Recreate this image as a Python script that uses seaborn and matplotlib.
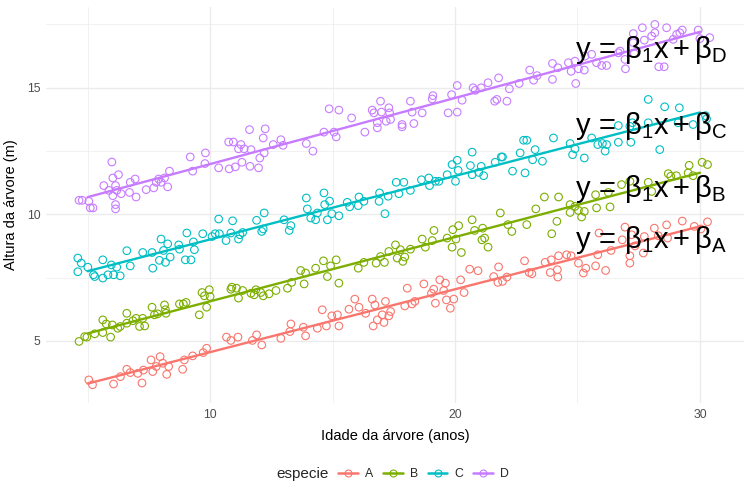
import numpy as np
import pandas as pd
import seaborn as sns
import matplotlib.pyplot as plt
from matplotlib.lines import Line2D

# dados (idade jitterizada, altura em m)
idade_A = [5.05, 5.2, 6.06, 6.34, 6.6, 6.74, 7.05, 7.22, 7.28, 7.59, 7.66, 7.8, 7.96, 8.07, 8.23, 8.31,
           8.88, 8.95, 9.29, 9.72, 9.86, 10.67, 10.85, 11.14, 11.73, 11.9, 12.11, 12.89, 13.26, 13.3,
           13.81, 13.9, 14.38, 14.58, 14.75, 14.97, 15.2, 15.26, 15.67, 15.91, 16.08, 16.35, 16.62,
           16.66, 16.73, 16.83, 17.03, 17.1, 17.16, 17.3, 17.37, 17.95, 18.05, 18.25, 18.36, 18.73,
           19.04, 19.13, 19.2, 19.38, 19.54, 19.61, 19.65, 19.81, 19.95, 20.23, 20.37, 20.6, 20.94,
           21.58, 21.78, 21.75, 21.94, 22.12, 22.84, 23.03, 23.14, 23.68, 23.93, 23.89, 24.18, 24.2,
           24.23, 24.56, 24.74, 25.04, 25.24, 25.34, 25.74, 25.83, 25.88, 26.15, 26.37, 26.83, 26.94,
           27.14, 27.14, 27.21, 27.35, 27.69, 27.73, 28.14, 28.3, 28.64, 28.68, 29.28, 29.77, 30.04, 30.31]
altura_A = [3.46, 3.27, 3.3, 3.59, 3.88, 3.75, 3.72, 3.34, 3.85, 4.25, 3.79, 3.99, 4.38, 4.12, 3.68, 3.99,
            3.88, 4.25, 4.41, 4.54, 4.71, 5.15, 5.02, 5.15, 5.02, 5.24, 4.84, 5.1, 5.37, 5.67,
            5.54, 5.2, 5.5, 6.23, 5.59, 5.99, 6.03, 5.59, 6.25, 6.65, 6.33, 6.09, 6.65,
            5.59, 6.42, 5.83, 6.03, 5.73, 6.56, 5.99, 6.16, 6.38, 7.08, 6.46, 6.56, 7.25,
            6.88, 7.04, 6.49, 7.41, 6.99, 7.28, 6.62, 6.29, 6.65, 7.41, 6.91, 7.83, 7.77,
            7.54, 7.92, 7.31, 7.35, 7.52, 8.16, 7.7, 7.65, 8.1, 8.2, 7.7, 7.81, 7.52,
            8.36, 8.4, 8.36, 8.07, 7.68, 7.87, 7.96, 8.4, 9.26, 7.78, 8.57, 8.99, 9.49,
            8.36, 8.07, 9.19, 8.75, 8.47, 9.12, 9.45, 9.15, 9.58, 9.06, 9.73, 9.52, 9.42, 9.7]

idade_B = [4.65, 4.88, 4.97, 5.29, 5.62, 5.62, 5.76, 5.94, 6.01, 6.23, 6.33, 6.6, 6.6, 6.85, 6.98, 7.12,
           7.25, 7.33, 7.63, 7.73, 7.86, 8.14, 8.18, 8.2, 8.75, 8.91, 9.02, 9.56, 9.67, 9.77, 9.86,
           9.97, 10.0, 10.85, 10.89, 11.08, 11.16, 11.33, 11.67, 11.8, 11.87, 12.07, 12.17, 12.41,
           12.69, 13.16, 13.33, 13.7, 13.84, 13.9, 14.31, 14.63, 14.79, 14.92, 15.15, 15.26, 16.05,
           16.28, 16.78, 16.96, 17.12, 17.3, 17.57, 17.64, 17.77, 17.87, 17.95, 18.18, 18.66, 18.79,
           19.07, 19.14, 19.68, 19.88, 19.91, 20.04, 20.15, 20.26, 20.7, 20.8, 21.13, 21.1, 21.21,
           21.35, 21.85, 22.16, 22.32, 22.93, 23.3, 23.65, 23.95, 24.16, 24.23, 24.7, 24.7, 24.9,
           25.04, 25.17, 25.28, 25.74, 25.78, 26.33, 26.26, 26.8, 27.14, 27.89, 28.03, 28.71, 28.81,
           29.04, 29.52, 29.56, 29.72, 30.09, 30.31]
altura_B = [4.98, 5.17, 5.15, 5.28, 5.83, 5.33, 5.67, 5.15, 5.63, 5.5, 5.57, 6.09, 5.7, 5.8, 5.89, 5.57,
            5.89, 5.59, 6.33, 6.03, 6.07, 6.42, 6.23, 6.09, 6.46, 6.46, 6.52, 6.03, 6.91, 6.78, 6.33,
            7.02, 6.75, 7.04, 7.12, 7.08, 6.69, 6.99, 6.88, 6.82, 7.02, 6.91, 6.78, 6.86,
            6.99, 7.08, 7.31, 7.78, 7.25, 7.68, 7.87, 8.16, 7.54, 7.96, 8.2, 7.28, 7.87,
            8.1, 8.07, 8.33, 8.1, 8.53, 8.79, 8.27, 8.6, 8.14, 8.31, 8.62, 9.02, 8.7,
            8.96, 9.36, 9.06, 8.7, 9.39, 9.02, 9.55, 8.49, 9.78, 9.36, 9.45, 8.99, 9.06,
            8.7, 10.05, 9.59, 9.32, 9.59, 10.21, 10.68, 9.23, 9.72, 10.68, 10.38, 10.07, 10.31,
            10.15, 9.89, 10.11, 10.77, 10.25, 10.29, 10.86, 11.17, 11.3, 11.26, 10.9, 11.6, 11.5,
            11.52, 11.63, 11.93, 11.52, 12.05, 11.96]

idade_C = [4.6, 4.74, 4.6, 5.01, 5.24, 5.29, 5.62, 5.62, 5.83, 5.97, 6.06, 6.19, 6.33, 6.6, 6.74, 7.25,
           7.63, 7.66, 7.93, 8.0, 8.1, 8.18, 8.27, 8.37, 8.72, 8.75, 8.99, 9.05, 9.22, 9.32, 9.36,
           9.7, 10.08, 10.21, 10.35, 10.38, 10.65, 10.85, 10.92, 11.16, 11.22, 11.33, 11.9, 12.11,
           12.17, 12.21, 13.02, 13.23, 13.3, 13.97, 14.11, 14.31, 14.38, 14.68, 14.79, 14.88, 14.97,
           15.26, 15.6, 15.7, 16.05, 16.28, 16.9, 17.14, 13.93, 14.65, 16.08, 16.92, 17.27, 17.6,
           17.71, 17.91, 18.18, 18.63, 18.93, 18.96, 19.2, 19.34, 19.68, 19.88, 20.02, 20.09, 20.13,
           20.63, 20.7, 20.7, 20.97, 21.07, 21.17, 21.64, 21.89, 21.94, 22.35, 22.66, 22.86, 22.8,
           22.93, 23.17, 23.27, 23.57, 24.02, 24.7, 24.8, 24.9, 25.28, 25.58, 25.83, 26.02, 26.13,
           26.19, 26.67, 26.67, 27.14, 27.18, 27.24, 27.89, 27.89, 28.36, 28.56, 29.11, 29.16, 29.72,
           30.23, 30.27]
altura_C = [8.27, 8.07, 7.73, 7.91, 7.61, 7.54, 8.2, 7.48, 7.61, 8.0, 7.61, 7.91, 7.57, 8.56, 7.96, 8.49,
            8.49, 7.87, 8.18, 9.02, 8.57, 8.1, 8.83, 8.31, 8.79, 8.62, 8.2, 9.26, 8.2, 8.91, 8.6,
            9.23, 9.12, 9.23, 9.81, 9.23, 8.96, 9.26, 9.74, 9.02, 9.19, 9.28, 9.76, 9.32,
            9.42, 10.05, 9.78, 9.36, 9.55, 10.21, 9.85, 9.78, 10.05, 10.38, 9.78, 10.52, 10.02,
            9.94, 10.47, 10.29, 10.34, 10.51, 10.51, 10.02, 10.64, 10.84, 10.68, 10.84, 10.71, 11.26,
            10.81, 11.26, 10.94, 11.36, 11.43, 11.13, 11.3, 11.3, 11.56, 11.96, 11.3, 12.13, 11.73,
            11.92, 12.45, 11.56, 11.65, 11.89, 11.52, 12.05, 12.26, 12.26, 11.7, 12.42, 11.63, 12.92,
            12.92, 12.15, 12.55, 12.09, 13.01, 12.79, 12.35, 12.58, 12.22, 13.01, 12.75, 12.79, 12.49,
            12.75, 13.5, 12.84, 13.47, 12.84, 13.61, 14.53, 13.61, 12.55, 14.24, 13.61, 14.2, 13.54,
            13.89, 13.76]

idade_D = [4.65, 4.78, 5.05, 5.11, 5.22, 6.14, 6.14, 5.66, 5.87, 5.99, 6.03, 6.03, 6.14, 6.26, 6.19, 6.37,
           6.71, 6.74, 6.94, 6.98, 7.39, 7.7, 7.8, 7.9, 8.0, 8.14, 8.27, 8.34, 9.19, 9.29, 9.79,
           9.81, 10.35, 10.76, 10.78, 10.95, 11.03, 11.16, 11.26, 11.3, 11.39, 11.61, 11.63, 11.67,
           11.98, 12.03, 12.17, 12.21, 12.25, 12.58, 12.89, 12.98, 13.93, 14.2, 14.65, 14.86, 15.06,
           15.15, 15.26, 15.78, 16.32, 16.62, 16.69, 16.83, 16.83, 16.96, 17.0, 17.19, 17.3, 17.33,
           17.37, 17.84, 17.84, 18.18, 18.25, 18.32, 18.66, 19.07, 19.1, 19.72, 19.86, 20.09, 20.09,
           20.29, 20.74, 20.83, 21.07, 21.35, 21.62, 21.71, 21.78, 22.12, 22.22, 22.62, 23.05, 23.21,
           23.35, 23.98, 23.98, 24.2, 24.63, 24.74, 24.9, 24.93, 25.04, 25.28, 25.31, 25.58, 25.78,
           25.99, 26.19, 26.67, 26.74, 26.96, 26.94, 27.28, 27.28, 27.32, 27.65, 27.73, 28.03, 28.16,
           28.16, 28.32, 28.54, 28.64, 28.91, 29.05, 29.18, 29.28, 29.93, 30.0, 30.4]
altura_D = [10.55, 10.55, 10.51, 10.25, 10.25, 10.38, 10.21, 11.13, 10.94, 12.06, 11.43, 10.73, 11.13, 11.56, 10.94, 10.81,
            10.86, 11.26, 11.39, 10.68, 10.97, 11.04, 11.26, 11.39, 11.26, 11.43, 11.08, 11.7, 12.26, 11.7, 12.0,
            12.42, 11.83, 12.85, 11.79, 12.85, 11.87, 12.58, 12.75, 12.05, 12.58, 13.34, 11.89, 12.55,
            11.83, 12.22, 13.01, 12.42, 13.37, 12.75, 12.94, 12.72, 12.79, 12.49, 13.24, 14.16, 13.24,
            13.05, 14.11, 13.8, 13.24, 14.11, 14.0, 13.61, 13.41, 14.46, 14.03, 13.67, 14.2, 14.0,
            13.74, 13.54, 13.45, 14.46, 14.03, 13.58, 14.0, 14.55, 14.68, 14.0, 14.72, 15.08, 14.03,
            14.5, 14.99, 14.89, 14.99, 15.19, 14.46, 14.53, 15.38, 14.46, 14.95, 15.16, 15.69, 15.29,
            15.47, 15.95, 15.32, 15.78, 15.98, 15.64, 16.04, 15.16, 15.74, 15.69, 16.24, 16.31, 15.98,
            15.87, 15.87, 16.37, 16.44, 15.74, 16.11, 17.13, 16.77, 16.34, 17.36, 16.87, 17.03, 17.49,
            17.16, 15.82, 15.82, 17.36, 16.9, 17.1, 17.16, 17.27, 17.27, 16.93, 16.97]

especies = ['A', 'B', 'C', 'D']
cores = ['#F8766D', '#7CAE00', '#00BFC4', '#C77CFF']
faixa_idade = [5, 30]          # idades reais (sem jitter) usadas no ajuste
rotulo_x = 28
rotulo_y = [9, 11, 13.5, 16.5]

dados = {'A': (idade_A, altura_A), 'B': (idade_B, altura_B),
         'C': (idade_C, altura_C), 'D': (idade_D, altura_D)}
df = pd.concat([pd.DataFrame({'idade': x, 'altura': y, 'especie': e})
                for e, (x, y) in dados.items()], ignore_index=True)

sns.set_theme(style="whitegrid")
plt.rcParams['font.family'] = ['Liberation Sans', 'DejaVu Sans']
plt.rcParams['mathtext.fontset'] = 'custom'
plt.rcParams['mathtext.rm'] = 'Liberation Sans'
plt.rcParams['mathtext.it'] = 'Liberation Sans:italic'
plt.rcParams['mathtext.default'] = 'regular'

fig, ax = plt.subplots(figsize=(7.5, 5), dpi=100)
fig.subplots_adjust(left=0.0613, right=0.992, bottom=0.194, top=0.9866)

sns.scatterplot(data=df, x='idade', y='altura', hue='especie', hue_order=especies,
                palette=cores, s=30, linewidth=0.8, legend=False, ax=ax)
pts = ax.collections[0]
pts.set_edgecolors(pts.get_facecolors())
pts.set_facecolors('none')

# retas de regressao por especie
xs = np.array(faixa_idade)
for esp, cor in zip(especies, cores):
    sub = df[df['especie'] == esp]
    coef = np.polyfit(sub['idade'], sub['altura'], 1)
    ax.plot(xs, np.polyval(coef, xs), color=cor, lw=1.7)

for esp, yv in zip(especies, rotulo_y):
    ax.text(rotulo_x, yv, r'$y\,=\,\beta_1x+\beta_%s$' % esp, fontsize=21,
            ha='center', va='center', color='black')

ax.set_xlim(3.3, 31.8)
ax.set_ylim(2.55, 18.19)
ax.set_xticks([10, 20, 30])
ax.set_xticks([5, 15, 25], minor=True)
ax.set_yticks([5, 10, 15])
ax.set_yticks([7.5, 12.5, 17.5], minor=True)
ax.grid(which='major', color='#EBEBEB', lw=1.0)
ax.grid(which='minor', color='#EBEBEB', lw=0.5)
ax.tick_params(which='both', length=0, labelsize=8.8, labelcolor='#4D4D4D', pad=4)
for s in ax.spines.values():
    s.set_visible(False)

ax.set_xlabel('Idade da árvore (anos)', fontsize=10.5, color='black', labelpad=6)
ax.set_ylabel('Altura da árvore (m)', fontsize=10.5, color='black', labelpad=6)

handles = [Line2D([0], [0], color=c, lw=1.8, marker='o', markersize=5,
                  markerfacecolor='none', markeredgecolor=c, markeredgewidth=0.8) for c in cores]
fig.legend(handles, especies, loc='center', bbox_to_anchor=(0.565, 0.052), ncol=4,
           frameon=False, handlelength=1.6, handletextpad=0.6, columnspacing=0.8, fontsize=8.8)
fig.text(0.403, 0.052, 'especie', fontsize=11, ha='center', va='center')

fig.savefig('out.png', dpi=100)
